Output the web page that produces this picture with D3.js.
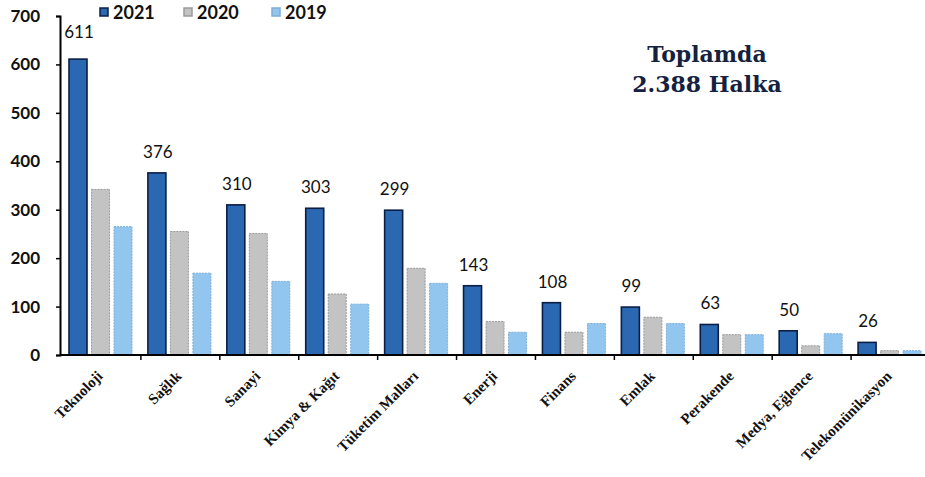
<!DOCTYPE html>
<html>
<head>
<meta charset="utf-8">
<script src="https://cdn.jsdelivr.net/npm/d3@7"></script>
<style>
    body { margin: 0; background: #fff; }
    svg { display: block; }
</style>
</head>
<body>
<svg width="925" height="477"></svg>
<script>
// the data
var categories = ["Teknoloji", "Sağlık", "Sanayi", "Kimya & Kağıt", "Tüketim Malları", "Enerji",
    "Finans", "Emlak", "Perakende", "Medya, Eğlence", "Telekomünikasyon"];
var years = ["2021", "2020", "2019"];
var values2021 = [611, 376, 310, 303, 299, 143, 108, 99, 63, 50, 26];
var values2020 = [342, 255, 251, 126, 179, 69, 47, 78, 42, 19, 9];
var values2019 = [265, 169, 152, 105, 148, 47, 65, 65, 42, 44, 9];
var yTicks = [0, 100, 200, 300, 400, 500, 600, 700];
var totalLines = ["Toplamda", "2.388 Halka"];

var svg = d3.select("svg");

// colours per year
var fills = { "2021": "#2a68b1", "2020": "#c3c3c3", "2019": "#92c6ee" };
var strokes = { "2021": "#0b1f45", "2020": "#9a9a9a", "2019": "#7eaed6" };

var seriesByYear = { "2021": values2021, "2020": values2020, "2019": values2019 };

//////////// SCALES ////////////

var x0 = d3.scaleBand().domain(categories).range([62, 930]);
var x1 = d3.scaleBand().domain(years).range([7, 70]).paddingInner(0.2);
var y = d3.scaleLinear().domain([0, 700]).range([355, 16]);

//////////// BARS ////////////

var rows = categories.map(function (c, i) {
    return years.map(function (yr) {
        return { cat: c, year: yr, value: seriesByYear[yr][i] };
    });
});

var groups = svg.append("g")
    .selectAll("g")
    .data(rows)
    .enter().append("g")
    .attr("transform", function (d) { return "translate(" + x0(d[0].cat) + ",0)"; });

groups.selectAll("rect")
    .data(function (d) { return d; })
    .enter().append("rect")
    .attr("x", function (d) { return x1(d.year); })
    .attr("y", function (d) { return y(d.value); })
    .attr("width", x1.bandwidth())
    .attr("height", function (d) { return y(0) - y(d.value); })
    .attr("fill", function (d) { return fills[d.year]; })
    .attr("stroke", function (d) { return strokes[d.year]; })
    .attr("stroke-width", function (d) { return d.year == "2021" ? 1.6 : 1; })
    .attr("stroke-dasharray", function (d) { return d.year == "2021" ? null : "2,1"; });

// value labels above 2021 bars
svg.append("g")
    .selectAll("text")
    .data(categories)
    .enter().append("text")
    .attr("x", function (d) { return x0(d) + x1("2021") + x1.bandwidth() / 2 + 1; })
    .attr("y", function (d, i) { return y(values2021[i]) - (i == 0 ? 21 : 15); })
    .attr("text-anchor", "middle")
    .style("font-family", "Lato, 'Open Sans', sans-serif")
    .style("font-size", "17px")
    .style("fill", "#111")
    .text(function (d, i) { return values2021[i]; });

//////////// AXES ////////////

var yAxis = svg.append("g")
    .attr("transform", "translate(60,0)")
    .call(d3.axisLeft(y).tickValues(yTicks).tickSize(4).tickPadding(16));
yAxis.select(".domain").attr("stroke", "#000").attr("stroke-width", 2);
yAxis.selectAll("line").attr("stroke", "#000").attr("stroke-width", 1.5);
yAxis.selectAll("text")
    .style("font-family", "Lato, sans-serif")
    .style("font-weight", "bold")
    .style("font-size", "17px")
    .style("fill", "#111");

var xAxis = svg.append("g")
    .attr("transform", "translate(0,355)");
xAxis.append("line")
    .attr("x1", 60).attr("x2", 925)
    .attr("stroke", "#000").attr("stroke-width", 2);
xAxis.selectAll(".tk")
    .data(categories.slice(1))
    .enter().append("line")
    .attr("class", "tk")
    .attr("x1", function (d) { return x0(d); })
    .attr("x2", function (d) { return x0(d); })
    .attr("y1", 0).attr("y2", 5)
    .attr("stroke", "#000").attr("stroke-width", 1.5);

// rotated category labels
xAxis.selectAll(".lbl")
    .data(categories)
    .enter().append("text")
    .attr("class", "lbl")
    .attr("text-anchor", "end")
    .attr("transform", function (d) {
        return "translate(" + (x0(d) + x0.bandwidth() / 2 + 2) + ",22) rotate(-45)";
    })
    .style("font-family", "'Liberation Serif', serif")
    .style("font-weight", "bold")
    .style("font-size", "15px")
    .style("fill", "#111")
    .text(function (d) { return d; });

//////////// LEGEND ////////////

var legendX = [100, 184, 272];
var legend = svg.append("g")
    .selectAll("g")
    .data(years)
    .enter().append("g")
    .attr("transform", function (d, i) { return "translate(" + legendX[i] + ",0)"; });

legend.append("rect")
    .attr("x", 0).attr("y", 8)
    .attr("width", 8).attr("height", 8)
    .attr("fill", function (d) { return fills[d]; })
    .attr("stroke", function (d) { return strokes[d]; })
    .attr("stroke-width", 1.5);

legend.append("text")
    .attr("x", 13).attr("y", 19)
    .style("font-family", "Lato, sans-serif")
    .style("font-weight", "bold")
    .style("font-size", "18px")
    .style("fill", "#111")
    .text(function (d) { return d; });

//////////// TOTAL NOTE ////////////

svg.append("g")
    .selectAll("text")
    .data(totalLines)
    .enter().append("text")
    .attr("x", 707)
    .attr("y", function (d, i) { return 62 + i * 30; })
    .attr("text-anchor", "middle")
    .style("font-family", "'DejaVu Serif', serif")
    .style("font-weight", "bold")
    .style("font-size", "22px")
    .style("fill", "#14213f")
    .text(function (d) { return d; });
</script>
</body>
</html>
